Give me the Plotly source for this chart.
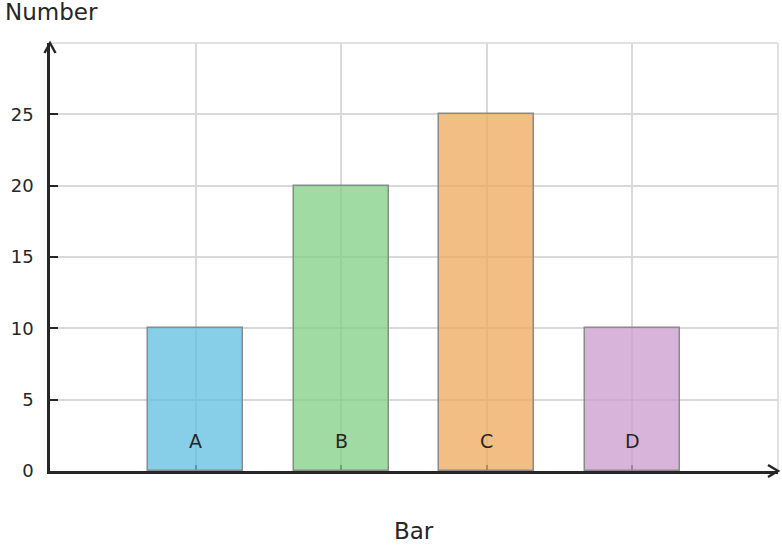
import plotly.graph_objects as go

categories = ["A", "B", "C", "D"]
positions = [1, 2, 3, 4]
values = [10, 20, 25, 10]
bar_colors = [
    "rgba(95,191,224,0.75)",
    "rgba(130,207,134,0.75)",
    "rgba(239,168,91,0.75)",
    "rgba(203,155,207,0.75)",
]
y_ticks = [0, 5, 10, 15, 20, 25]
label_y = 2.1

FONT = "DejaVu Sans"
INK = "#262626"
GRID = "#d9d9d9"

fig = go.Figure()

fig.add_trace(go.Bar(
    x=positions,
    y=values,
    width=0.65,
    marker=dict(color=bar_colors, line=dict(color="#8a8a8a", width=1.5)),
    hoverinfo="x+y",
    showlegend=False,
))

# category labels sitting low inside each bar
for pos, cat in zip(positions, categories):
    fig.add_annotation(x=pos, y=label_y, text=cat, showarrow=False,
                       font=dict(family=FONT, size=19, color=INK))

# axis titles
fig.add_annotation(xref="paper", yref="paper", x=-0.0646, y=1.072,
                   xanchor="left", yanchor="middle", text="Number",
                   showarrow=False, font=dict(family=FONT, size=23, color=INK))
fig.add_annotation(xref="paper", yref="paper", x=0.5, y=-0.14,
                   xanchor="center", yanchor="middle", text="Bar",
                   showarrow=False, font=dict(family=FONT, size=23, color=INK))

# top / right frame lines (grid coloured)
fig.add_shape(type="line", xref="paper", yref="paper", x0=0, x1=1, y0=1, y1=1,
              line=dict(color=GRID, width=1.5), layer="below")
fig.add_shape(type="line", xref="paper", yref="paper", x0=1, x1=1, y0=0, y1=1,
              line=dict(color=GRID, width=1.5), layer="below")

# arrow heads on the axes
fig.add_shape(type="path", xref="paper", yref="paper", xsizemode="pixel", ysizemode="pixel",
              xanchor=0, yanchor=1, path="M -5.5,-10 L 0,0 L 5.5,-10",
              line=dict(color=INK, width=2.5))
fig.add_shape(type="path", xref="paper", yref="paper", xsizemode="pixel", ysizemode="pixel",
              xanchor=1, yanchor=0, path="M -10,6 L 0,0 L -10,-6",
              line=dict(color=INK, width=2.5))

fig.update_xaxes(
    range=[0, 5],
    tickvals=positions,
    showticklabels=False,
    ticks="inside", ticklen=6, tickwidth=1.5, tickcolor=INK,
    showgrid=True, gridcolor=GRID, gridwidth=1.5,
    showline=True, linecolor=INK, linewidth=2.5,
    zeroline=False,
    layer="below traces",
)
fig.update_yaxes(
    range=[0, 30],
    tickvals=y_ticks,
    ticks="inside", ticklen=8, tickwidth=2, tickcolor=INK,
    ticklabelstandoff=10,
    tickfont=dict(family=FONT, size=18, color=INK),
    showgrid=True, gridcolor=GRID, gridwidth=1.5,
    showline=True, linecolor=INK, linewidth=2.5,
    zeroline=False,
    layer="below traces",
)

fig.update_layout(
    width=782, height=548,
    margin=dict(l=50, r=4, t=43, b=77),
    plot_bgcolor="white", paper_bgcolor="white",
    font=dict(family=FONT, color=INK),
    bargap=0,
)

fig.write_html("out.html", config={"displayModeBar": False},
               post_script="document.body.style.margin='0px';")
